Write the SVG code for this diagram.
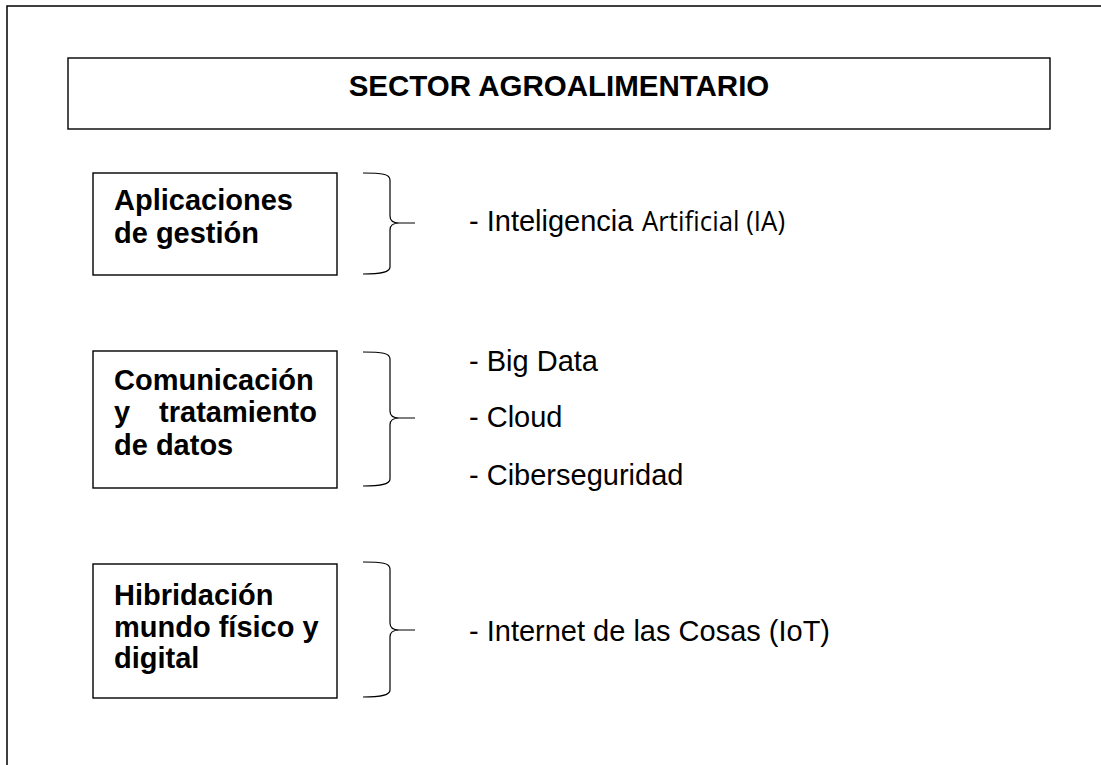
<svg xmlns="http://www.w3.org/2000/svg" width="1101" height="765" viewBox="0 0 1101 765">
<style>
.frame{fill:none;stroke:#000;stroke-width:1.5}
.box{fill:#fff;stroke:#000;stroke-width:1.4}
.brace{fill:none;stroke:#000;stroke-width:1.2}
.bold{font-family:"Liberation Sans",Arial,sans-serif;font-weight:bold;font-size:29px;fill:#000}
.reg{font-family:"Liberation Sans",Arial,sans-serif;font-size:29px;fill:#000}
.alt{font-family:"Open Sans","Noto Sans",sans-serif;font-size:28px;fill:#000}
</style>
<rect width="1101" height="765" fill="#fff"/>
<rect class="frame" x="7" y="6" width="1200" height="900"/>
<g id="header">
<rect class="box" x="68" y="58" width="982" height="71"/>
<text class="bold" x="559" y="96" text-anchor="middle" style="font-size:29.5px">SECTOR AGROALIMENTARIO</text>
</g>
<g id="node-aplicaciones">
<rect class="box" x="93" y="173" width="244" height="102"/>
<text class="bold" x="114" y="210">Aplicaciones</text>
<text class="bold" x="114" y="243">de gestión</text>
</g>
<g id="node-comunicacion">
<rect class="box" x="93" y="351" width="244" height="137"/>
<text class="bold" x="114" y="390">Comunicación</text>
<text class="bold" x="114" y="422">y</text>
<text class="bold" x="317" y="422" text-anchor="end">tratamiento</text>
<text class="bold" x="114" y="455">de datos</text>
</g>
<g id="node-hibridacion">
<rect class="box" x="93" y="564" width="244" height="134"/>
<text class="bold" x="114" y="605">Hibridación</text>
<text class="bold" x="114" y="637">mundo físico y</text>
<text class="bold" x="114" y="668">digital</text>
</g>
<g id="connectors">
<path class="brace" d="M363,173 C382,173 390,174 390,180 L390,216 C390,221 393,223 399,223 L415,223 M399,223 C393,223 390,225 390,230 L390,267 C390,272 382,274 363,274"/>
<path class="brace" d="M363,352 C382,352 390,353 390,359 L390,411 C390,416 393,418 399,418 L415,418 M399,418 C393,418 390,420 390,425 L390,479 C390,484 382,486 363,486"/>
<path class="brace" d="M363,562 C382,562 390,563 390,569 L390,623 C390,628 393,630 399,630 L415,630 M399,630 C393,630 390,632 390,637 L390,690 C390,695 382,697 363,697"/>
</g>
<g id="items-aplicaciones">
<text class="reg" x="469" y="231">- Inteligencia</text>
<text class="alt" x="642" y="231" textLength="143" lengthAdjust="spacingAndGlyphs">Artificial (IA)</text>
</g>
<g id="items-comunicacion">
<text class="reg" x="469" y="371">- Big Data</text>
<text class="reg" x="469" y="427">- Cloud</text>
<text class="reg" x="469" y="485">- Ciberseguridad</text>
</g>
<g id="items-hibridacion">
<text class="reg" x="469" y="641">- Internet de las Cosas (IoT)</text>
</g>
</svg>
